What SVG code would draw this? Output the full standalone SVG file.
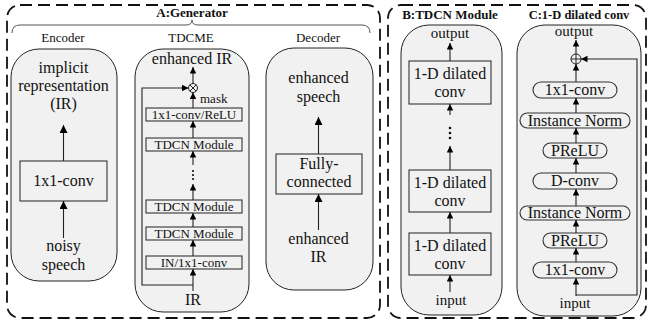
<svg xmlns="http://www.w3.org/2000/svg" width="649" height="321" viewBox="0 0 649 321" font-family="'Liberation Serif', 'Times New Roman', Tinos, 'Nimbus Roman', 'DejaVu Serif', serif">
<defs>
<style>
text{font-family:'Liberation Serif','Times New Roman',Tinos,'Nimbus Roman','DejaVu Serif',serif;fill:#111;text-anchor:middle}
.t16{font-size:16px}
.t15{font-size:15px}
.t13{font-size:13px}
.b{font-weight:bold;font-size:13px}
.dash{fill:none;stroke:#111;stroke-width:1.8;stroke-dasharray:12 6}
.rb{fill:#f1f1f1;stroke:#222;stroke-width:1}
.bx{fill:none;stroke:#333;stroke-width:1.1}
.ln{fill:none;stroke:#222;stroke-width:1.1}
.al{fill:none;stroke:#222;stroke-width:1.1;marker-end:url(#ah)}
.as{fill:none;stroke:#222;stroke-width:1.1;marker-end:url(#ahs)}
</style>
<marker id="ah" viewBox="0 0 10 10" refX="10" refY="5" markerWidth="11" markerHeight="8" markerUnits="userSpaceOnUse" orient="auto"><path d="M0,0 L10,5 L0,10 z" fill="#000"/></marker>
<marker id="ahs" viewBox="0 0 10 10" refX="10" refY="5" markerWidth="8" markerHeight="6.5" markerUnits="userSpaceOnUse" orient="auto"><path d="M0,0 L10,5 L0,10 z" fill="#000"/></marker>
</defs>

<g id="frameA">
<rect class="dash" x="7" y="5" width="373" height="313" rx="13"/>
<text class="b" x="192" y="17">A:Generator</text>
<path d="M12 33 Q12 25 20 25 L186 25 Q192 25 192 20 Q192 25 198 25 L362 25 Q370 25 370 33" fill="none" stroke="#555" stroke-width="1"/>
<text class="t13" x="63" y="42">Encoder</text>
<text class="t13" x="191" y="42">TDCME</text>
<text class="t13" x="318" y="42">Decoder</text>
</g>

<g id="frameBC">
<rect class="dash" x="388" y="5" width="258" height="313" rx="13"/>
<text class="b" x="450" y="19">B:TDCN Module</text>
<text class="b" x="579" y="19" style="font-size:12.5px">C:1-D dilated conv</text>
</g>

<g id="encoder">
<rect class="rb" x="11" y="49" width="106" height="232" rx="28"/>
<text class="t16" x="63.5" y="73">implicit</text>
<text class="t16" x="63.5" y="91">representation</text>
<text class="t16" x="63.5" y="109">(IR)</text>
<rect class="bx" x="20" y="161" width="87" height="40"/>
<text class="t16" x="63.5" y="186">1x1-conv</text>
<text class="t16" x="63.5" y="251">noisy</text>
<text class="t16" x="63.5" y="270">speech</text>
</g>

<g id="tdcme">
<rect class="rb" x="135" y="49" width="114" height="263" rx="28"/>
<text class="t16" x="192" y="64">enhanced IR</text>
<circle cx="193" cy="88" r="4.5" fill="none" stroke="#222" stroke-width="1"/>
<path d="M189.8 84.8 L196.2 91.2 M196.2 84.8 L189.8 91.2" stroke="#222" stroke-width="1"/>
<text class="t13" x="200" y="103" style="text-anchor:start">mask</text>
<rect class="bx" x="146" y="108" width="96" height="13"/>
<text class="t13" x="194" y="119">1x1-conv/ReLU</text>
<rect class="bx" x="146" y="138" width="96" height="13"/>
<text class="t13" x="194" y="149">TDCN Module</text>
<circle cx="193" cy="171" r="1.1" fill="#111"/>
<circle cx="193" cy="175" r="1.1" fill="#111"/>
<circle cx="193" cy="179" r="1.1" fill="#111"/>
<rect class="bx" x="146" y="200" width="96" height="13"/>
<text class="t13" x="194" y="211">TDCN Module</text>
<rect class="bx" x="146" y="227" width="96" height="13"/>
<text class="t13" x="194" y="238">TDCN Module</text>
<rect class="bx" x="146" y="256" width="96" height="13"/>
<text class="t13" x="194" y="267">IN/1x1-conv</text>
<text class="t16" x="193" y="305">IR</text>
</g>

<g id="decoder">
<rect class="rb" x="266" y="48" width="107" height="242" rx="28"/>
<text class="t16" x="318.5" y="83">enhanced</text>
<text class="t16" x="318.5" y="102">speech</text>
<rect class="bx" x="276" y="154" width="86" height="40"/>
<text class="t16" x="319" y="169">Fully-</text>
<text class="t16" x="319" y="187">connected</text>
<text class="t16" x="318.5" y="244">enhanced</text>
<text class="t16" x="318.5" y="262">IR</text>
</g>

<g id="tdcn">
<rect class="rb" x="401" y="25" width="101" height="290" rx="28"/>
<text class="t15" x="450" y="38">output</text>
<rect class="bx" x="409" y="61" width="82" height="43"/>
<text class="t16" x="450" y="79">1-D dilated</text>
<text class="t16" x="450" y="97">conv</text>
<circle cx="450" cy="128" r="1.3" fill="#111"/>
<circle cx="450" cy="133" r="1.3" fill="#111"/>
<circle cx="450" cy="138" r="1.3" fill="#111"/>
<rect class="bx" x="409" y="170" width="82" height="42"/>
<text class="t16" x="450" y="188">1-D dilated</text>
<text class="t16" x="450" y="206">conv</text>
<rect class="bx" x="409" y="233" width="82" height="42"/>
<text class="t16" x="450" y="251">1-D dilated</text>
<text class="t16" x="450" y="269">conv</text>
<text class="t15" x="451" y="305">input</text>
</g>

<g id="dilconv">
<rect class="rb" x="517" y="25" width="124" height="291" rx="28"/>
<text class="t15" x="574" y="36">output</text>
<circle cx="576" cy="59" r="5" fill="none" stroke="#222" stroke-width="1"/>
<path d="M571 59 L581 59 M576 54 L576 64" stroke="#222" stroke-width="1"/>
<rect class="bx" x="533" y="82" width="84" height="16" rx="8"/>
<text class="t16" x="575" y="95">1x1-conv</text>
<rect class="bx" x="520" y="113" width="110" height="15" rx="7.5"/>
<text class="t16" x="575" y="125.5">Instance Norm</text>
<rect class="bx" x="543" y="143" width="64" height="15" rx="7.5"/>
<text class="t16" x="575" y="155.5">PReLU</text>
<rect class="bx" x="533" y="173" width="84" height="16" rx="8"/>
<text class="t16" x="575" y="186">D-conv</text>
<rect class="bx" x="520" y="206" width="110" height="14" rx="7"/>
<text class="t16" x="575" y="218">Instance Norm</text>
<rect class="bx" x="543" y="233" width="64" height="15" rx="7.5"/>
<text class="t16" x="575" y="245.5">PReLU</text>
<rect class="bx" x="533" y="262" width="84" height="16" rx="8"/>
<text class="t16" x="575" y="275">1x1-conv</text>
<text class="t15" x="575" y="308">input</text>
</g>

<g id="connectors">
<line class="al" x1="63.5" y1="161" x2="63.5" y2="125"/>
<line class="al" x1="63.5" y1="238" x2="63.5" y2="201"/>

<line class="as" x1="193" y1="83.5" x2="193" y2="67"/>
<line class="as" x1="193" y1="108" x2="193" y2="92.5"/>
<line class="as" x1="193" y1="138" x2="193" y2="121"/>
<line class="as" x1="193" y1="165" x2="193" y2="151"/>
<line class="as" x1="193" y1="200" x2="193" y2="184"/>
<line class="as" x1="193" y1="227" x2="193" y2="213"/>
<line class="as" x1="193" y1="256" x2="193" y2="240"/>
<line class="as" x1="193" y1="291" x2="193" y2="269"/>
<path class="as" d="M193 285 L142 285 L142 88 L188.5 88"/>

<line class="al" x1="318.5" y1="154" x2="318.5" y2="117"/>
<line class="al" x1="318.5" y1="230" x2="318.5" y2="194"/>

<line class="as" x1="450" y1="61" x2="450" y2="43"/>
<line class="as" x1="450" y1="115" x2="450" y2="104"/>
<line class="as" x1="450" y1="170" x2="450" y2="146"/>
<line class="as" x1="450" y1="233" x2="450" y2="212"/>
<line class="as" x1="450" y1="292" x2="450" y2="275"/>

<line class="as" x1="576" y1="54" x2="576" y2="40"/>
<line class="as" x1="576" y1="82" x2="576" y2="64"/>
<line class="as" x1="576" y1="113" x2="576" y2="98"/>
<line class="as" x1="576" y1="143" x2="576" y2="128"/>
<line class="as" x1="576" y1="173" x2="576" y2="158"/>
<line class="as" x1="576" y1="206" x2="576" y2="189"/>
<line class="as" x1="576" y1="233" x2="576" y2="220"/>
<line class="as" x1="576" y1="262" x2="576" y2="248"/>
<line class="as" x1="576" y1="296" x2="576" y2="278"/>
<path class="as" d="M576 295 L637 295 L637 59 L581 59"/>
</g>
</svg>
